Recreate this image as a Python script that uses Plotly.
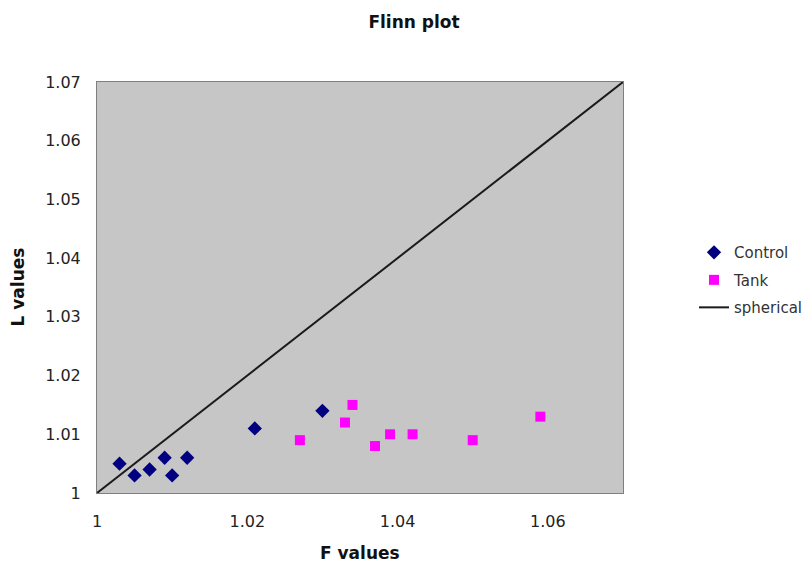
import plotly.graph_objects as go

control_f = [1.003, 1.005, 1.007, 1.009, 1.010, 1.012, 1.021, 1.030]
control_l = [1.005, 1.003, 1.004, 1.006, 1.003, 1.006, 1.011, 1.014]
tank_f = [1.027, 1.033, 1.034, 1.037, 1.039, 1.042, 1.050, 1.059]
tank_l = [1.009, 1.012, 1.015, 1.008, 1.010, 1.010, 1.009, 1.013]
spherical_f = [1.0, 1.07]
spherical_l = [1.0, 1.07]

x_ticks = [1.0, 1.02, 1.04, 1.06]
x_ticktext = ["1", "1.02", "1.04", "1.06"]
y_ticks = [1.0, 1.01, 1.02, 1.03, 1.04, 1.05, 1.06, 1.07]
y_ticktext = ["1", "1.01", "1.02", "1.03", "1.04", "1.05", "1.06", "1.07"]

FONT = "DejaVu Sans"

fig = go.Figure()
fig.add_trace(go.Scatter(x=control_f, y=control_l, mode="markers", name="Control",
                         legendgroup="a",
                         marker=dict(symbol="diamond", size=11, color="#000080")))
fig.add_trace(go.Scatter(x=tank_f, y=tank_l, mode="markers", name="Tank",
                         legendgroup="b",
                         marker=dict(symbol="square", size=10, color="#FF00FF")))
fig.add_trace(go.Scatter(x=spherical_f, y=spherical_l, mode="lines", name="spherical",
                         legendgroup="c",
                         line=dict(color="#1a1a1a", width=2)))

fig.update_layout(
    width=812, height=567,
    paper_bgcolor="white", plot_bgcolor="#C6C6C6",
    margin=dict(l=89, r=191, t=74, b=82),
    font=dict(family=FONT, size=16, color="#222222"),
    title=dict(text="<b>Flinn plot</b>", x=0.5, xref="container", xanchor="center",
               y=0.975, yref="container", yanchor="middle",
               font=dict(size=17, family=FONT, color="#111111")),
    showlegend=True,
    legend=dict(x=1.135, xanchor="left", y=0.518, yanchor="middle",
                font=dict(size=15, family=FONT, color="#333333"),
                bgcolor="rgba(0,0,0,0)", tracegroupgap=5),
    xaxis=dict(range=[1.0, 1.07], tickvals=x_ticks, ticktext=x_ticktext, showgrid=False,
               zeroline=False, showline=True, linecolor="#7f7f7f", linewidth=1, mirror=True,
               ticks="outside", ticklen=14, tickcolor="rgba(0,0,0,0)",
               tickfont=dict(size=16, family=FONT)),
    yaxis=dict(range=[1.0, 1.07], tickvals=y_ticks, ticktext=y_ticktext, showgrid=False,
               zeroline=False, showline=True, linecolor="#7f7f7f", linewidth=1, mirror=True,
               ticks="outside", ticklen=12, tickcolor="rgba(0,0,0,0)",
               tickfont=dict(size=16, family=FONT)),
    annotations=[
        dict(text="<b>F values</b>", xref="paper", yref="paper", x=0.5, y=0,
             xanchor="center", yanchor="middle", yshift=-60, showarrow=False,
             font=dict(size=17, family=FONT, color="#111111")),
        dict(text="<b>L values</b>", xref="paper", yref="paper", x=0, y=0.5,
             xanchor="center", yanchor="middle", xshift=-80, textangle=-90, showarrow=False,
             font=dict(size=17, family=FONT, color="#111111")),
    ],
)

fig.write_html("out.html")
